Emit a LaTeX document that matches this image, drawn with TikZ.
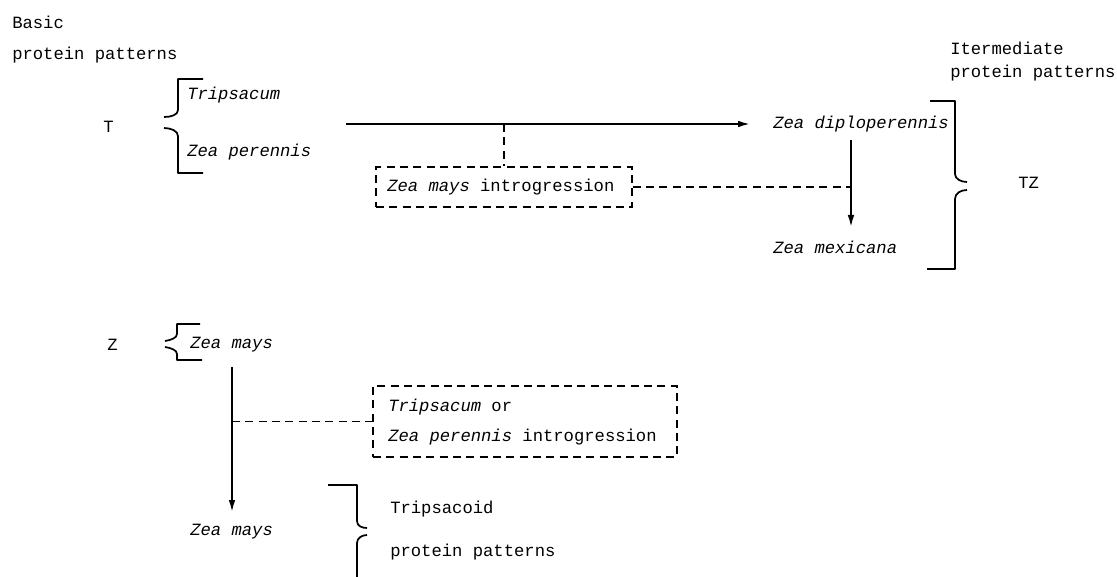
\documentclass[tikz,border=0pt]{standalone}
\usepackage{fontspec}
\setmainfont{Liberation Mono}
\usetikzlibrary{arrows.meta}
\begin{document}
\begin{tikzpicture}[x=0.75pt,y=-0.75pt,
  txt/.style={anchor=west,inner sep=0pt,font=\fontsize{12.9}{15}\selectfont},
  itx/.style={txt,font=\fontsize{12.9}{15}\selectfont\itshape},
  solidline/.style={line width=1.3pt,line join=round},
  arr/.style={solidline,-{Latex[length=9pt,width=5pt]}},
  dline/.style={line width=0.8pt,dash pattern=on 6pt off 4pt},
  dbox/.style={draw,line width=0.8pt,dash pattern=on 6pt off 4pt,inner sep=0pt}]
\useasboundingbox (0,0) rectangle (1117,577);
% texts
\node[txt] (basic) at (12,22) {Basic};
\node[txt] (bpp) at (12,55) {protein patterns};
\node[txt] (T) at (103,127) {T};
\node[itx] (trip) at (187,95) {Tripsacum};
\node[itx] (zper) at (187,152) {Zea perennis};
\node[txt] (inter) at (950,48) {Itermediate};
\node[txt] (ipp) at (950,73) {protein patterns};
\node[itx] (zd) at (773,124) {Zea diploperennis};
\node[itx] (zmx) at (773,247) {Zea mexicana};
\node[txt] (TZ) at (1018,183) {TZ};
\node[txt] (Z) at (107,345) {Z};
\node[itx] (zm1) at (190,345) {Zea mays};
\node[itx] (zm2) at (190,532) {Zea mays};
\node[txt] (tps) at (390,509) {Tripsacoid};
\node[txt] (tpp) at (390,552) {protein patterns};
% dashed boxes
\node[dbox,minimum width=192pt,minimum height=30pt] (box1) at (504,187) {};
\node[itx] (box1t) at (387,187) {Zea mays \upshape introgression};
\node[dbox,minimum width=228pt,minimum height=53.25pt] (box2) at (525,421.5) {};
\node[itx] (box2a) at (388,407) {Tripsacum \upshape or};
\node[itx] (box2b) at (388,437) {Zea perennis \upshape introgression};
% coordinates
\coordinate (hs) at (346,124);
\coordinate (he) at (750,124);
\coordinate (hj) at (504,124);
\coordinate (vs) at (851,140);
\coordinate (ve) at (851,227);
\coordinate (vj) at (851,187);
\coordinate (zs) at (232,367);
\coordinate (ze) at (232,512);
\coordinate (zj) at (232,421.5);
% connectors
\draw[arr] (hs) -- (he);
\draw[dline] (hj) -- (box1.north);
\draw[arr] (vs) -- (ve);
\draw[dline] (box1.east) -- (vj);
\draw[arr] (zs) -- (ze);
\draw[dline] (zj) -- (box2.west);
% braces
\draw[solidline] (203,79) -- (178,79) -- (178,110) .. controls (178,115) and (171,117) .. (164,117);
\draw[solidline] (164,128) .. controls (171,128) and (178,131) .. (178,136) -- (178,173) -- (203,173);
\draw[solidline] (930,101) -- (955,101) -- (955,174) .. controls (955,179) and (961,182) .. (967,182);
\draw[solidline] (967,190) .. controls (961,190) and (955,193) .. (955,199) -- (955,269) -- (927,269);
\draw[solidline] (200,324) -- (177,324) -- (177,334) .. controls (177,338) and (171,340) .. (165,341);
\draw[solidline] (165,347) .. controls (171,348) and (177,350) .. (177,354) -- (177,360) -- (202,360);
\draw[solidline] (328,485) -- (357,485) -- (357,521) .. controls (357,526) and (362,528) .. (367,528);
\draw[solidline] (367,535) .. controls (362,535) and (357,538) .. (357,543) -- (357,578);
\end{tikzpicture}
\end{document}
